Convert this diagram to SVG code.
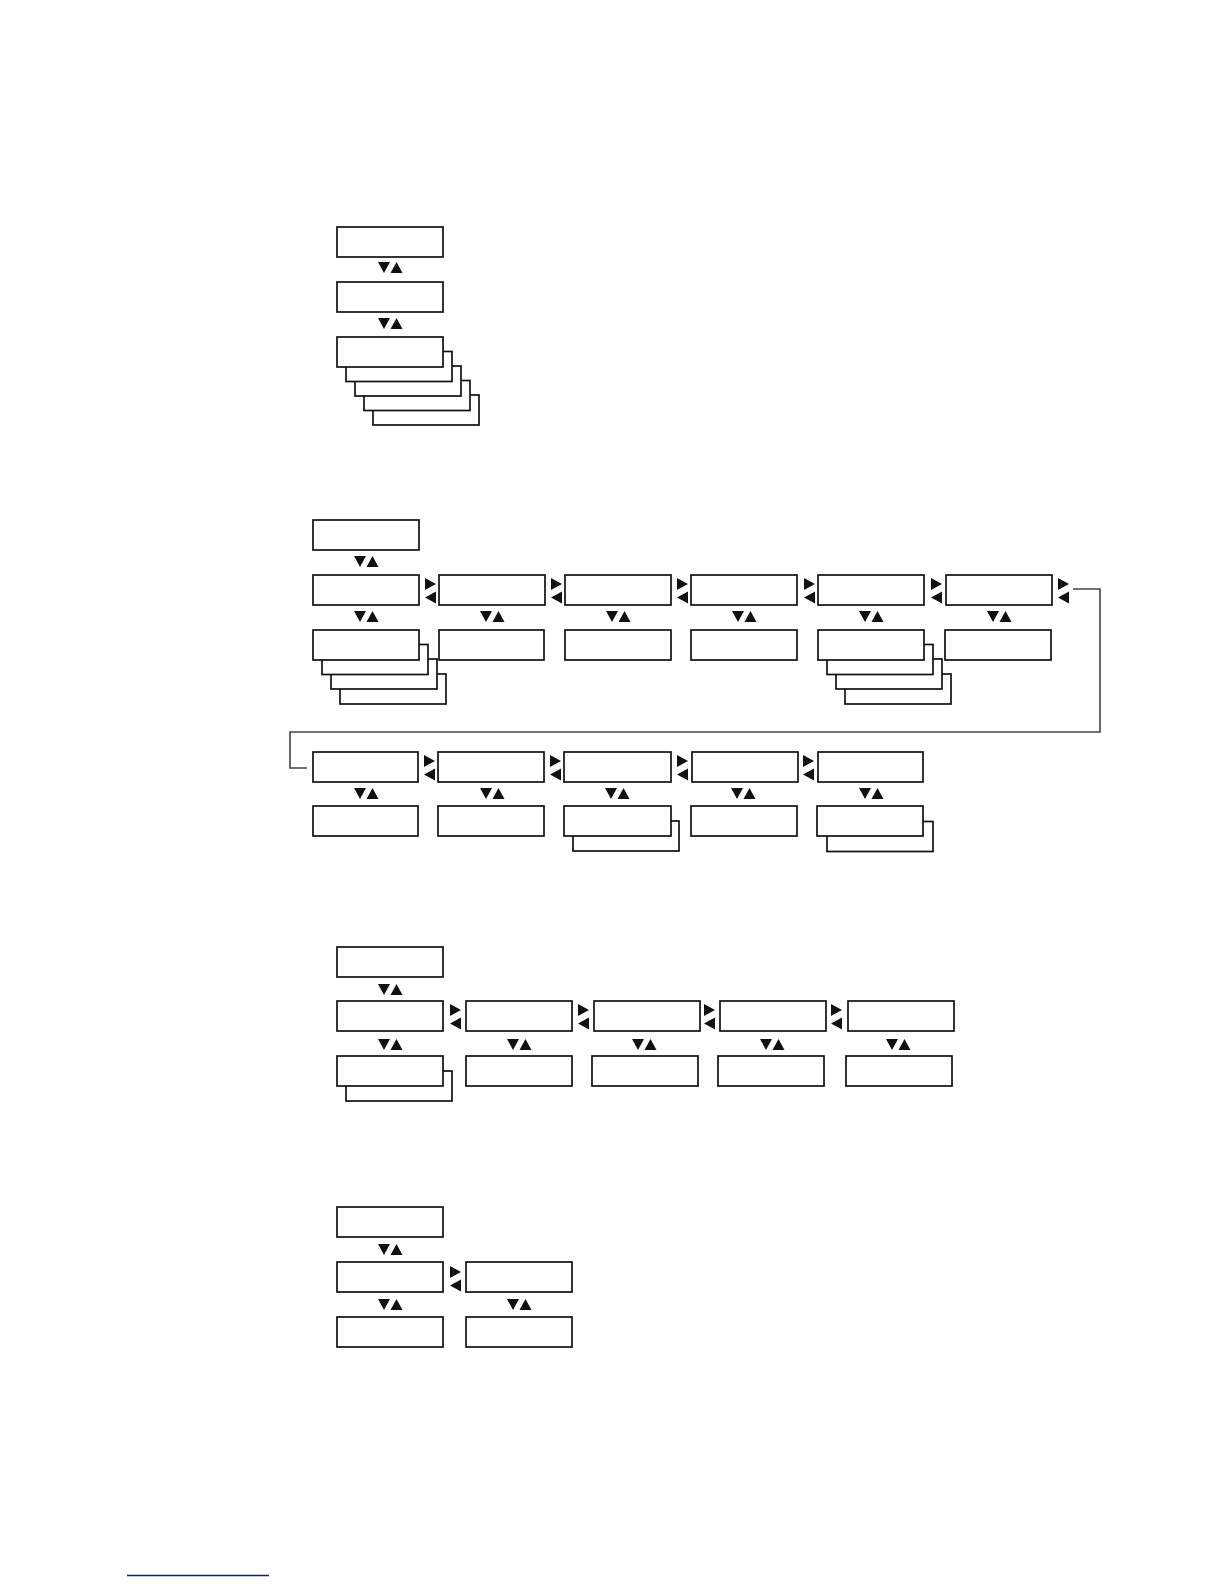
<svg xmlns="http://www.w3.org/2000/svg" xmlns:xlink="http://www.w3.org/1999/xlink" width="1224" height="1584" viewBox="0 0 1224 1584">
<style>
.box{fill:#fff;stroke:#111;stroke-width:1.7}
.tri{fill:#111}
.conn{fill:none;stroke:#444;stroke-width:1.6}
</style>
<defs>
<g id="ud" class="tri"><polygon points="0,0 12,0 6,11"/><polygon points="12.5,11 24.5,11 18.5,0"/></g>
<g id="lr" class="tri"><polygon points="0,0 11,6 0,12"/><polygon points="11,13.5 0,19.5 11,25.5"/></g>
</defs>
<rect width="1224" height="1584" fill="#fff"/>

<!-- Section 1 -->
<g id="s1-n1"><rect class="box" x="337" y="227" width="106" height="30"/></g>
<g id="s1-n2"><rect class="box" x="337" y="282" width="106" height="30"/></g>
<g id="s1-n3">
<rect class="box" x="373" y="395" width="106" height="30"/>
<rect class="box" x="364" y="380.5" width="106" height="30"/>
<rect class="box" x="355" y="366" width="106" height="30"/>
<rect class="box" x="346" y="351.5" width="106" height="30"/>
<rect class="box" x="337" y="337" width="106" height="30"/>
</g>

<!-- Section 2 -->
<g id="s2-top"><rect class="box" x="313" y="520" width="106" height="30"/></g>
<g id="s2-a1"><rect class="box" x="313" y="575" width="106" height="30"/></g>
<g id="s2-a2"><rect class="box" x="439" y="575" width="106" height="30"/></g>
<g id="s2-a3"><rect class="box" x="565" y="575" width="106" height="30"/></g>
<g id="s2-a4"><rect class="box" x="691" y="575" width="106" height="30"/></g>
<g id="s2-a5"><rect class="box" x="818" y="575" width="106" height="30"/></g>
<g id="s2-a6"><rect class="box" x="946" y="575" width="106" height="30"/></g>
<g id="s2-b1">
<rect class="box" x="340" y="674" width="106" height="30"/>
<rect class="box" x="331" y="659" width="106" height="30"/>
<rect class="box" x="322" y="644.5" width="106" height="30"/>
<rect class="box" x="313" y="630" width="106" height="30"/>
</g>
<g id="s2-b2"><rect class="box" x="439" y="630" width="105" height="30"/></g>
<g id="s2-b3"><rect class="box" x="565" y="630" width="106" height="30"/></g>
<g id="s2-b4"><rect class="box" x="691" y="630" width="106" height="30"/></g>
<g id="s2-b5">
<rect class="box" x="845" y="674" width="106" height="30"/>
<rect class="box" x="836" y="659" width="106" height="30"/>
<rect class="box" x="827" y="644.5" width="106" height="30"/>
<rect class="box" x="818" y="630" width="106" height="30"/>
</g>
<g id="s2-b6"><rect class="box" x="945" y="630" width="106" height="30"/></g>

<g id="s2-c1"><rect class="box" x="313" y="752" width="105" height="30"/></g>
<g id="s2-c2"><rect class="box" x="438" y="752" width="106" height="30"/></g>
<g id="s2-c3"><rect class="box" x="564" y="752" width="107" height="30"/></g>
<g id="s2-c4"><rect class="box" x="692" y="752" width="106" height="30"/></g>
<g id="s2-c5"><rect class="box" x="818" y="752" width="105" height="30"/></g>
<g id="s2-d1"><rect class="box" x="313" y="806" width="105" height="30"/></g>
<g id="s2-d2"><rect class="box" x="438" y="806" width="106" height="30"/></g>
<g id="s2-d3">
<rect class="box" x="573" y="821" width="106" height="30"/>
<rect class="box" x="564" y="806" width="107" height="30"/>
</g>
<g id="s2-d4"><rect class="box" x="691" y="806" width="106" height="30"/></g>
<g id="s2-d5">
<rect class="box" x="827" y="821.5" width="106" height="30"/>
<rect class="box" x="817" y="806" width="106" height="30"/>
</g>

<!-- Section 3 -->
<g id="s3-top"><rect class="box" x="337" y="947" width="106" height="30"/></g>
<g id="s3-a1"><rect class="box" x="337" y="1001" width="106" height="30"/></g>
<g id="s3-a2"><rect class="box" x="466" y="1001" width="106" height="30"/></g>
<g id="s3-a3"><rect class="box" x="594" y="1001" width="106" height="30"/></g>
<g id="s3-a4"><rect class="box" x="720" y="1001" width="106" height="30"/></g>
<g id="s3-a5"><rect class="box" x="848" y="1001" width="106" height="30"/></g>
<g id="s3-b1">
<rect class="box" x="346" y="1071" width="106" height="30"/>
<rect class="box" x="337" y="1056" width="106" height="30"/>
</g>
<g id="s3-b2"><rect class="box" x="466" y="1056" width="106" height="30"/></g>
<g id="s3-b3"><rect class="box" x="592" y="1056" width="106" height="30"/></g>
<g id="s3-b4"><rect class="box" x="718" y="1056" width="106" height="30"/></g>
<g id="s3-b5"><rect class="box" x="846" y="1056" width="106" height="30"/></g>

<!-- Section 4 -->
<g id="s4-top"><rect class="box" x="337" y="1207" width="106" height="30"/></g>
<g id="s4-a1"><rect class="box" x="337" y="1262" width="106" height="30"/></g>
<g id="s4-a2"><rect class="box" x="466" y="1262" width="106" height="30"/></g>
<g id="s4-b1"><rect class="box" x="337" y="1317" width="106" height="30"/></g>
<g id="s4-b2"><rect class="box" x="466" y="1317" width="106" height="30"/></g>

<!-- Connectors -->
<g id="connectors">
<use xlink:href="#ud" x="378" y="262"/>
<use xlink:href="#ud" x="378" y="318"/>

<use xlink:href="#ud" x="354" y="556"/>
<use xlink:href="#lr" x="425" y="578"/>
<use xlink:href="#lr" x="551" y="578"/>
<use xlink:href="#lr" x="677" y="578"/>
<use xlink:href="#lr" x="804" y="578"/>
<use xlink:href="#lr" x="931" y="578"/>
<use xlink:href="#lr" x="1058" y="578"/>
<use xlink:href="#ud" x="354" y="611"/>
<use xlink:href="#ud" x="480" y="611"/>
<use xlink:href="#ud" x="606" y="611"/>
<use xlink:href="#ud" x="732" y="611"/>
<use xlink:href="#ud" x="859" y="611"/>
<use xlink:href="#ud" x="987" y="611"/>
<polyline class="conn" points="1073,589 1100,589 1100,732 290,732 290,768 307,768"/>
<use xlink:href="#lr" x="424" y="755"/>
<use xlink:href="#lr" x="550" y="755"/>
<use xlink:href="#lr" x="677" y="755"/>
<use xlink:href="#lr" x="803" y="755"/>
<use xlink:href="#ud" x="354" y="788"/>
<use xlink:href="#ud" x="480" y="788"/>
<use xlink:href="#ud" x="605" y="788"/>
<use xlink:href="#ud" x="731" y="788"/>
<use xlink:href="#ud" x="859" y="788"/>

<use xlink:href="#ud" x="378" y="984"/>
<use xlink:href="#lr" x="450" y="1004"/>
<use xlink:href="#lr" x="578" y="1004"/>
<use xlink:href="#lr" x="704" y="1004"/>
<use xlink:href="#lr" x="831" y="1004"/>
<use xlink:href="#ud" x="378" y="1039"/>
<use xlink:href="#ud" x="507" y="1039"/>
<use xlink:href="#ud" x="632" y="1039"/>
<use xlink:href="#ud" x="760" y="1039"/>
<use xlink:href="#ud" x="886" y="1039"/>

<use xlink:href="#ud" x="378" y="1244"/>
<use xlink:href="#lr" x="450" y="1266"/>
<use xlink:href="#ud" x="378" y="1299"/>
<use xlink:href="#ud" x="507" y="1299"/>
</g>

<line x1="127" y1="1575.5" x2="269" y2="1575.5" stroke="#14149a" stroke-width="1.5"/>
</svg>
